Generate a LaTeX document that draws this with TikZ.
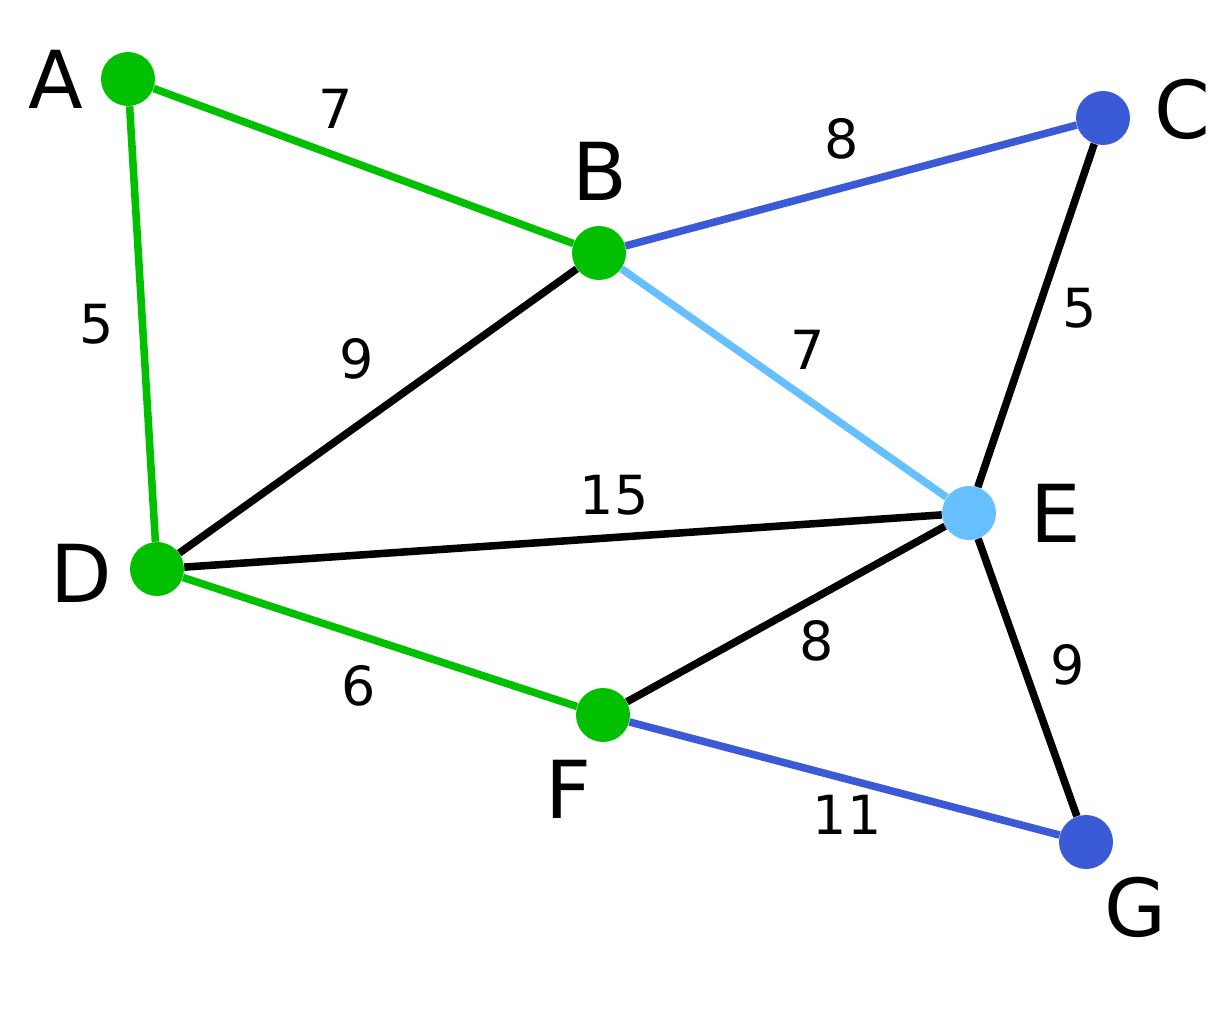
\documentclass[tikz,border=0pt]{standalone}
\usepackage{fontspec}
\setmainfont{DejaVu Sans}
\definecolor{vert}{HTML}{00C000}
\definecolor{bleu}{HTML}{3A5AD6}
\definecolor{ciel}{HTML}{66C0FF}
\tikzset{
  sommet/.style={circle,inner sep=0pt,minimum size=1.08cm},
  arete/.style={line width=4.3pt},
  lettre/.style={anchor=base,inner sep=0pt,font=\fontsize{45.5}{50}\selectfont},
  poids/.style={anchor=base,inner sep=0pt,font=\fontsize{30.7}{34}\selectfont}
}
\begin{document}
\begin{tikzpicture}[x=0.02cm,y=-0.02cm]
\useasboundingbox (0,0) rectangle (1222,1024) ;
% les sommets
\node[sommet,fill=vert] (A) at (128,79) {} ;
\node[sommet,fill=vert] (B) at (599,253) {} ;
\node[sommet,fill=bleu] (C) at (1103,118) {} ;
\node[sommet,fill=vert] (D) at (157,569) {} ;
\node[sommet,fill=ciel] (E) at (969,513) {} ;
\node[sommet,fill=vert] (F) at (603,715) {} ;
\node[sommet,fill=bleu] (G) at (1086,842) {} ;

% les aretes
\draw[arete,vert] (A) -- (B) ;
\draw[arete,vert] (A) -- (D) ;
\draw[arete,vert] (D) -- (F) ;
\draw[arete,bleu] (B) -- (C) ;
\draw[arete,bleu] (F) -- (G) ;
\draw[arete,ciel] (B) -- (E) ;
\draw[arete] (D) -- (B) ;
\draw[arete] (D) -- (E) ;
\draw[arete] (F) -- (E) ;
\draw[arete] (C) -- (E) ;
\draw[arete] (E) -- (G) ;

% les noms
\node[lettre] (nA) at (56,109) {A} ;
\node[lettre] (nB) at (600,200) {B} ;
\node[lettre] (nC) at (1182,138) {C} ;
\node[lettre] (nD) at (81,602) {D} ;
\node[lettre] (nE) at (1056,542) {E} ;
\node[lettre] (nF) at (568,818) {F} ;
\node[lettre] (nG) at (1135,936) {G} ;

% les poids
\node[poids] (pAB) at (336,128) {7} ;
\node[poids] (pBC) at (842,158) {8} ;
\node[poids] (pAD) at (97,343) {5} ;
\node[poids] (pDB) at (357,378) {9} ;
\node[poids] (pBE) at (808,369) {7} ;
\node[poids] (pCE) at (1080,327) {5} ;
\node[poids] (pDE) at (614,514) {15} ;
\node[poids] (pFE) at (817,660) {8} ;
\node[poids] (pEG) at (1068,684) {9} ;
\node[poids] (pDF) at (359,705) {6} ;
\node[poids] (pFG) at (847,834) {11} ;
\end{tikzpicture}
\end{document}
